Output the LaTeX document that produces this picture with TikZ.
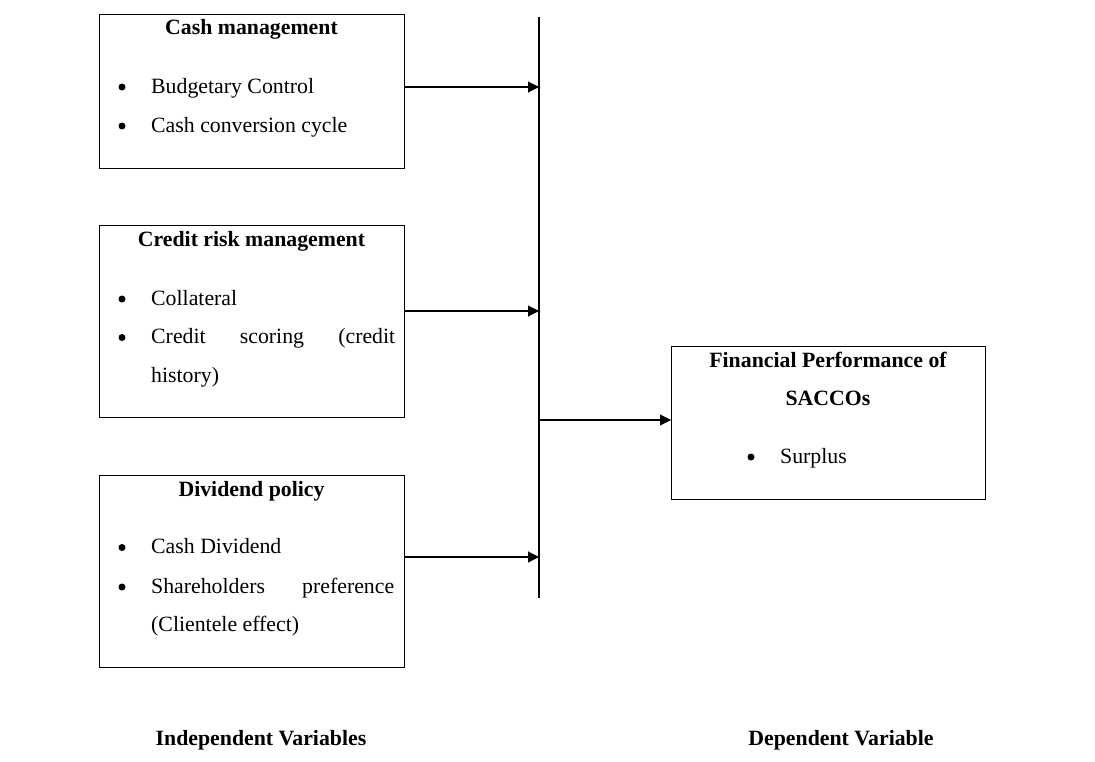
\documentclass[tikz,border=0pt]{standalone}
\usepackage{fontspec}
\setmainfont{Liberation Serif}
\usetikzlibrary{arrows.meta}
\tikzset{
  box/.style={draw, line width=1.1pt, anchor=north west, inner sep=0pt},
  txt/.style={inner sep=0pt, anchor=base west, font=\fontsize{21.8}{26}\selectfont},
  ttl/.style={inner sep=0pt, anchor=base, font=\fontsize{21.8}{26}\selectfont\bfseries},
  bul/.style={circle, fill, inner sep=0pt, minimum size=7pt},
  conn/.style={line width=1.1pt},
  arr/.style={line width=1.1pt, -{Triangle[length=11pt,width=11pt]}}
}
\begin{document}
\begin{tikzpicture}[x=1pt,y=-1pt]
\useasboundingbox (0,0) rectangle (1095,761);
% boxes
\node[box, minimum width=305pt, minimum height=154pt] (b1) at (99,14) {};
\node[box, minimum width=305pt, minimum height=192pt] (b2) at (99,225) {};
\node[box, minimum width=305pt, minimum height=192pt] (b3) at (99,475) {};
\node[box, minimum width=314pt, minimum height=153pt] (b4) at (671,346) {};
% box 1
\node[ttl] (t1) at (251.5,34) {Cash management};
\node[bul] (u11) at (122,87) {};
\node[txt] (l11) at (151,93) {Budgetary Control};
\node[bul] (u12) at (122,126) {};
\node[txt] (l12) at (151,132) {Cash conversion cycle};
% box 2
\node[ttl] (t2) at (251.5,246) {Credit risk management};
\node[bul] (u21) at (122,299) {};
\node[txt] (l21) at (151,305) {Collateral};
\node[bul] (u22) at (122,337.5) {};
\node[txt] (l22) at (151,343.5) {\makebox[244pt][s]{Credit scoring (credit}};
\node[txt] (l23) at (151,382) {history)};
% box 3
\node[ttl] (t3) at (251.5,496) {Dividend policy};
\node[bul] (u31) at (122,547.5) {};
\node[txt] (l31) at (151,553.5) {Cash Dividend};
\node[bul] (u32) at (122,587) {};
\node[txt] (l32) at (151,593) {\makebox[243pt][s]{Shareholders preference}};
\node[txt] (l33) at (151,631.5) {(Clientele effect)};
% box 4
\node[ttl] (t4) at (828,367) {Financial Performance of};
\node[ttl] (t5) at (828,405) {SACCOs};
\node[bul] (u41) at (751,457) {};
\node[txt] (l41) at (780,463) {Surplus};
% bottom labels
\node[ttl] (iv) at (261,745) {Independent Variables};
\node[ttl] (dv) at (841,745) {Dependent Variable};
% connectors
\coordinate (bt) at (539,17);
\coordinate (bb) at (539,598);
\coordinate (j1) at (539,87);
\coordinate (j2) at (539,311);
\coordinate (j3) at (539,557);
\coordinate (j4) at (539,420);
\draw[conn] (bt) -- (bb);
\draw[arr] (b1.east |- j1) -- (j1);
\draw[arr] (b2.east |- j2) -- (j2);
\draw[arr] (b3.east |- j3) -- (j3);
\draw[arr] (j4) -- (b4.west |- j4);
\end{tikzpicture}
\end{document}
